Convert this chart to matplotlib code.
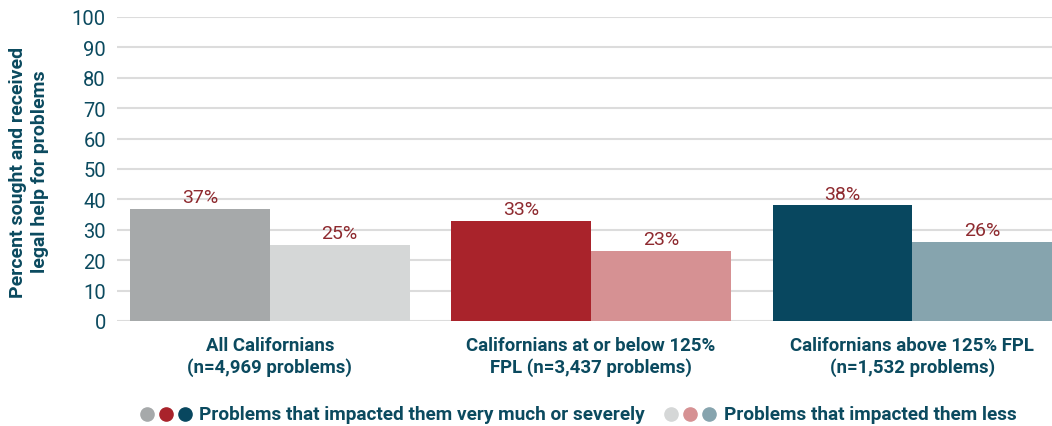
import matplotlib
matplotlib.use("Agg")
import matplotlib.pyplot as plt
from matplotlib.lines import Line2D
import numpy as np

plt.rcParams['font.family'] = ['Roboto', 'DejaVu Sans']

categories = ["All Californians\n(n=4,969 problems)",
              "Californians at or below 125%\nFPL (n=3,437 problems)",
              "Californians above 125% FPL\n(n=1,532 problems)"]
severe = [37, 33, 38]
less = [25, 23, 26]
severe_colors = ["#a6a9aa", "#a9232b", "#08475f"]
less_colors = ["#d5d7d7", "#d69193", "#86a4ae"]
legend_labels = ["Problems that impacted them very much or severely",
                 "Problems that impacted them less"]
y_ticks = list(range(0, 101, 10))

TEXT = "#0b4a5f"
LABEL = "#8e2a2f"
GRID = "#dcdcdc"

fig = plt.figure(figsize=(10.52, 4.27), dpi=100)
ax = fig.add_axes([117/1052, 1 - 322/427, 1 - 117/1052, (322 - 18)/427])

x = np.arange(len(categories))
w = 0.435
b1 = ax.bar(x - w/2, severe, width=w, color=severe_colors, zorder=2)
b2 = ax.bar(x + w/2, less, width=w, color=less_colors, zorder=2)

for bars, vals in ((b1, severe), (b2, less)):
    for rect, v in zip(bars, vals):
        ax.annotate(f"{v}%", (rect.get_x() + rect.get_width()/2, v),
                    xytext=(0, 2), textcoords="offset points",
                    ha="center", va="bottom", fontsize=14, color=LABEL)

ax.set_xlim(-0.476, 2.435)
ax.set_ylim(0, 100)
ax.set_yticks(y_ticks)
ax.yaxis.grid(True, color=GRID, linewidth=1.5, zorder=0)
ax.set_axisbelow(True)
for s in ax.spines.values():
    s.set_visible(False)
ax.tick_params(axis="y", length=0, pad=8, labelsize=14.5, labelcolor=TEXT)
ax.tick_params(axis="x", length=0, pad=11)
ax.set_xticks(x)
ax.set_xticklabels(categories, fontsize=13.4, fontweight="bold", color=TEXT,
                   linespacing=1.2)

fig.text(29/1052, 1 - 172/427,
         "Percent sought and received\nlegal help for problems",
         rotation=90, ha="center", va="center", fontsize=14, fontweight="bold",
         color=TEXT, linespacing=1.3)

# legend row: three coloured dots per series followed by its label
ly = 1 - 415/427
for cols, xs, label, tx in ((severe_colors, [147, 166, 185], legend_labels[0], 199),
                            (less_colors, [671, 690, 709], legend_labels[1], 724)):
    for c, px in zip(cols, xs):
        fig.add_artist(Line2D([px/1052], [ly], marker="o", markersize=9.5,
                              color=c, linestyle="none",
                              transform=fig.transFigure))
    fig.text(tx/1052, ly, label, ha="left", va="center", fontsize=13.7,
             fontweight="bold", color=TEXT)

fig.savefig("out.png", dpi=100)
